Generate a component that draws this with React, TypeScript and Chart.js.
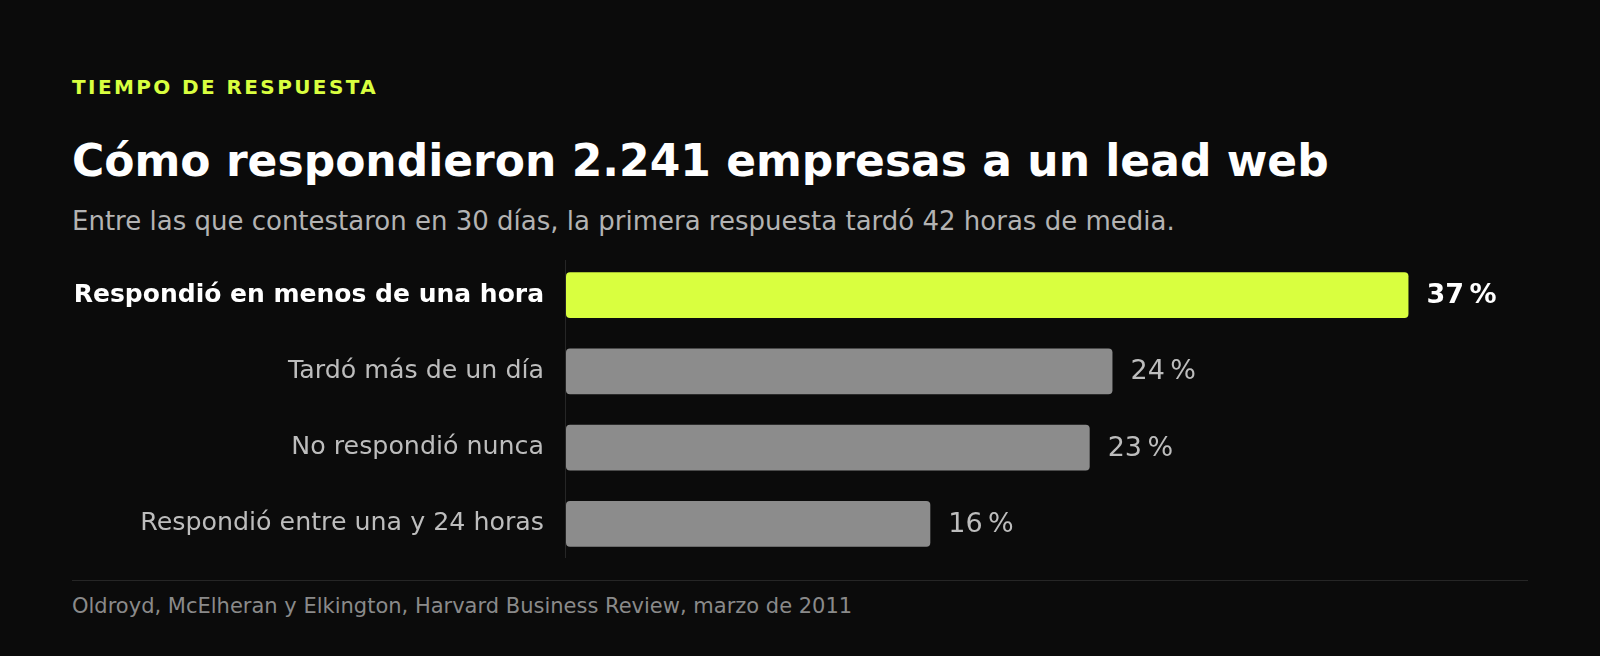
import React, { useEffect, useRef } from 'react';
import { Chart, registerables, Plugin } from 'chart.js';

Chart.register(...registerables);

const categories = [
  'Respondió en menos de una hora',
  'Tardó más de un día',
  'No respondió nunca',
  'Respondió entre una y 24 horas',
];
const shares = [37, 24, 23, 16];
const highlight = [true, false, false, false];

const FONT = '"DejaVu Sans", sans-serif';
const BG = '#0b0b0b';
const LIME = '#d9ff3f';

// thin baseline a bit shorter than the plot area
const baseline: Plugin<'bar'> = {
  id: 'baseline',
  beforeDatasetsDraw(chart) {
    const { ctx, chartArea } = chart;
    ctx.save();
    ctx.strokeStyle = '#262626';
    ctx.lineWidth = 1;
    ctx.beginPath();
    ctx.moveTo(chartArea.left - 0.5, chartArea.top + 3);
    ctx.lineTo(chartArea.left - 0.5, chartArea.bottom - 4);
    ctx.stroke();
    ctx.restore();
  },
};

// percentage labels at the end of each bar
const valueLabels: Plugin<'bar'> = {
  id: 'valueLabels',
  afterDatasetsDraw(chart) {
    const { ctx } = chart;
    const meta = chart.getDatasetMeta(0);
    ctx.save();
    ctx.textBaseline = 'middle';
    ctx.textAlign = 'left';
    meta.data.forEach((bar: any, i) => {
      const hi = highlight[i];
      ctx.font = `${hi ? 'bold ' : ''}27px ${FONT}`;
      ctx.fillStyle = hi ? '#ffffff' : '#bdbdbd';
      ctx.fillText(`${shares[i]}\u202F%`, bar.x + 18, bar.y + 1);
    });
    ctx.restore();
  },
};

function ResponseChart() {
  const canvasRef = useRef<HTMLCanvasElement | null>(null);
  useEffect(() => {
    if (!canvasRef.current) return;
    const ctx = canvasRef.current.getContext('2d');
    if (!ctx) return;

    const chart = new Chart(ctx, {
      type: 'bar',
      data: {
        labels: categories,
        datasets: [
          {
            data: shares,
            backgroundColor: highlight.map((h) => (h ? LIME : '#8c8c8c')),
            borderRadius: 4,
            borderSkipped: false,
            categoryPercentage: 1,
            barPercentage: 0.6,
          },
        ],
      },
      options: {
        indexAxis: 'y',
        animation: false,
        responsive: false,
        maintainAspectRatio: false,
        layout: { padding: 0 },
        plugins: { legend: { display: false }, tooltip: { enabled: false } },
        scales: {
          x: { display: false, min: 0, max: 42.25 },
          y: {
            afterFit: (axis: any) => {
              axis.width = 494;
              axis.paddingTop = 0;
              axis.paddingBottom = 0;
            },
            grid: { display: false, drawTicks: false },
            border: { display: false },
            ticks: {
              padding: 22,
              color: (c: any) => (highlight[c.index] ? '#ffffff' : '#bdbdbd'),
              font: (c: any) =>
                highlight[c.index]
                  ? { family: FONT, size: 25, weight: 'bold' }
                  : { family: FONT, size: 25.3, weight: 'normal' },
            },
          },
        },
      },
      plugins: [baseline, valueLabels],
    });

    return () => chart.destroy();
  }, []);

  return (
    <canvas
      ref={canvasRef}
      width={1456}
      height={305}
      style={{ position: 'absolute', left: 72, top: 257, width: 1456, height: 305 }}
    />
  );
}

export default function App() {
  const text = (extra: React.CSSProperties): React.CSSProperties => ({
    position: 'absolute',
    left: 72,
    margin: 0,
    lineHeight: 1,
    whiteSpace: 'nowrap',
    fontFamily: FONT,
    ...extra,
  });
  return (
    <div
      style={{
        position: 'fixed',
        inset: 0,
        width: 1600,
        height: 656,
        background: BG,
        overflow: 'hidden',
      }}
    >
      <div style={text({ top: 77, fontSize: 20, fontWeight: 'bold', color: LIME, letterSpacing: 2.4 })}>
        TIEMPO DE RESPUESTA
      </div>
      <div style={text({ top: 139, fontSize: 44, fontWeight: 'bold', color: '#ffffff' })}>
        Cómo respondieron 2.241 empresas a un lead web
      </div>
      <div style={text({ top: 208, fontSize: 26, color: '#b3b3b3' })}>
        Entre las que contestaron en 30 días, la primera respuesta tardó 42 horas de media.
      </div>
      <ResponseChart />
      <div
        style={{ position: 'absolute', left: 72, top: 580, width: 1456, height: 1, background: '#262626' }}
      />
      <div style={text({ top: 596, fontSize: 21, color: '#8a8a8a' })}>
        Oldroyd, McElheran y Elkington, Harvard Business Review, marzo de 2011
      </div>
    </div>
  );
}
